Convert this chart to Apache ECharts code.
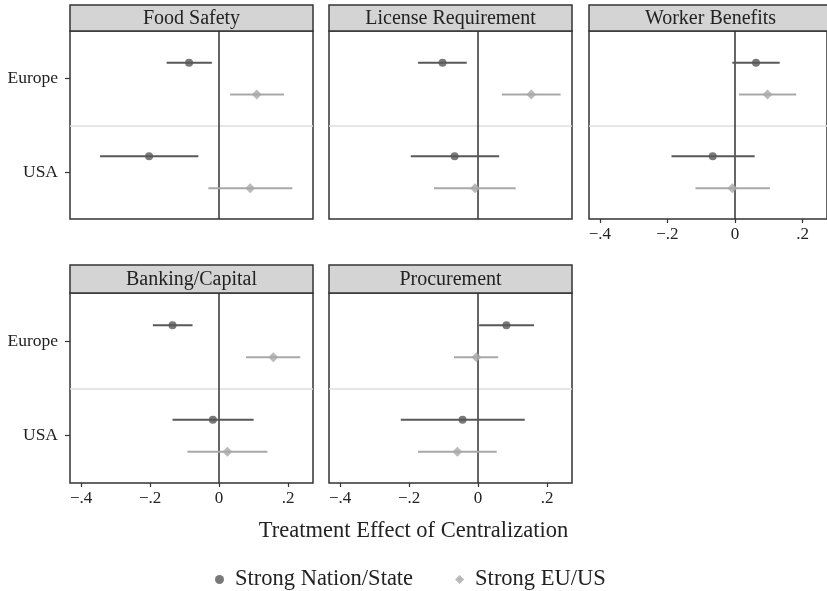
<!DOCTYPE html>
<html>
<head>
<meta charset="utf-8">
<script src="https://cdn.jsdelivr.net/npm/echarts@6/dist/echarts.min.js"></script>
<style>
  html, body { margin: 0; padding: 0; background: #fff; }
  #chart { width: 827px; height: 591px; }
</style>
</head>
<body>
<div id="chart"></div>
<script>
const panelNames = ["Food Safety", "License Requirement", "Worker Benefits", "Banking/Capital", "Procurement"];
const regions = ["Europe", "USA"];
const xTicks = [-0.4, -0.2, 0, 0.2];

// estimates and 95% bounds, per panel: [Europe, USA]
const nationEst = [[-0.087, -0.203], [-0.103, -0.068], [0.062, -0.066], [-0.135, -0.018], [0.082, -0.045]];
const nationLo  = [[-0.152, -0.345], [-0.174, -0.195], [-0.008, -0.188], [-0.192, -0.135], [0.003, -0.224]];
const nationHi  = [[-0.021, -0.060], [-0.033, 0.061], [0.132, 0.058], [-0.077, 0.100], [0.162, 0.135]];
const euEst = [[0.109, 0.090], [0.154, -0.009], [0.096, -0.008], [0.157, 0.024], [-0.005, -0.060]];
const euLo  = [[0.032, -0.031], [0.069, -0.128], [0.012, -0.117], [0.078, -0.092], [-0.070, -0.174]];
const euHi  = [[0.188, 0.212], [0.239, 0.109], [0.181, 0.103], [0.235, 0.140], [0.058, 0.054]];

const DARK = "#585858";
const LIGHT = "#a8a8a8";
const FONT = '"Liberation Serif", "DejaVu Serif", serif';
const DODGE = 0.17;

// panel boxes
const layout = [
  { left: 70, top: 31, height: 188, yLab: true, xLab: false },
  { left: 329, top: 31, height: 188, yLab: false, xLab: false },
  { left: 589, top: 31, height: 188, yLab: false, xLab: true },
  { left: 70, top: 293, height: 190, yLab: true, xLab: true },
  { left: 329, top: 293, height: 190, yLab: false, xLab: true },
];
const W = 243;

const fmtX = (v) => {
  if (Math.abs(v) < 1e-9) return "0";
  return (v < 0 ? "\u2212" : "") + Math.abs(v).toFixed(1).replace(/^0/, "");
};

const chart = echarts.init(document.getElementById("chart"));

const grids = [], xAxes = [], yAxes = [], series = [], graphics = [];

layout.forEach((p, i) => {
  grids.push({
    left: p.left, top: p.top, width: W, height: p.height,
    show: true, backgroundColor: "#fff", borderColor: "#333", borderWidth: 1.5,
  });
  xAxes.push({
    gridIndex: i, type: "value", min: -0.432, max: 0.272,
    axisLine: { show: false, onZero: false },
    splitLine: { show: false },
    axisTick: { show: p.xLab, customValues: xTicks, length: 4, lineStyle: { color: "#333", width: 1.2 } },
    axisLabel: { show: p.xLab, customValues: xTicks, formatter: fmtX, margin: 7,
      fontSize: 17, fontFamily: FONT, color: "#222" },
  });
  yAxes.push({
    gridIndex: i, type: "value", inverse: true, min: 0.49, max: 2.5,
    axisLine: { show: false, onZero: false },
    splitLine: { show: false },
    axisTick: { show: p.yLab, customValues: [1, 2], length: 5, lineStyle: { color: "#333", width: 1.2 } },
    axisLabel: { show: p.yLab, customValues: [1, 2], formatter: (v) => regions[Math.round(v) - 1],
      margin: 12, fontSize: 17.5, fontFamily: FONT, color: "#222" },
  });

  const bar = (lo, hi, off, color, extra) => Object.assign({
    type: "custom", xAxisIndex: i, yAxisIndex: i, z: 2,
    encode: { x: [0, 1], y: 2 },
    data: regions.map((r, j) => [lo[i][j], hi[i][j], j + 1 + off]),
    renderItem: (params, api) => {
      const a = api.coord([api.value(0), api.value(2)]);
      const b = api.coord([api.value(1), api.value(2)]);
      return { type: "line", shape: { x1: a[0], y1: a[1], x2: b[0], y2: b[1] },
        style: { stroke: color, lineWidth: 2 } };
    },
  }, extra || {});

  series.push(bar(nationLo, nationHi, -DODGE, DARK, {
    markLine: {
      silent: true, symbol: "none", label: { show: false }, z: 1,
      data: [
        { yAxis: 1.5, lineStyle: { color: "#dedede", width: 1.5, type: "solid" } },
        { xAxis: 0, lineStyle: { color: "#333", width: 1.5, type: "solid" } },
      ],
    },
  }));
  series.push(bar(euLo, euHi, DODGE, LIGHT));
  series.push({
    name: "Strong Nation/State", type: "scatter", xAxisIndex: i, yAxisIndex: i, z: 3,
    symbol: "circle", symbolSize: 8, itemStyle: { color: DARK },
    data: regions.map((r, j) => [nationEst[i][j], j + 1 - DODGE]),
  });
  series.push({
    name: "Strong EU/US", type: "scatter", xAxisIndex: i, yAxisIndex: i, z: 3,
    symbol: "diamond", symbolSize: 10, itemStyle: { color: LIGHT },
    data: regions.map((r, j) => [euEst[i][j], j + 1 + DODGE]),
  });

  // strip header
  const hTop = i < 3 ? 5 : 265;
  graphics.push({
    type: "rect", shape: { x: p.left, y: hTop, width: W, height: p.top - hTop },
    style: { fill: "#d4d4d4", stroke: "#333", lineWidth: 1.5 }, z: 10,
  });
  graphics.push({
    type: "text", x: p.left + W / 2, y: (hTop + p.top) / 2 + 1, z: 11,
    style: { text: panelNames[i], align: "center", verticalAlign: "middle",
      fontSize: 20, fontFamily: FONT, fill: "#222" },
  });
});

chart.setOption({
  backgroundColor: "#fff",
  animation: false,
  title: {
    text: "Treatment Effect of Centralization",
    left: "center", top: 515,
    textStyle: { fontSize: 22.5, fontWeight: "normal", fontFamily: FONT, color: "#222" },
  },
  legend: {
    data: [
      { name: "Strong Nation/State", icon: "circle" },
      { name: "Strong EU/US", icon: "diamond" },
    ],
    left: 210, top: 563,
    itemWidth: 9, itemHeight: 9, itemGap: 42,
    textStyle: { fontSize: 22.5, fontFamily: FONT, color: "#222", padding: [0, 0, 0, 6] },
  },
  grid: grids,
  xAxis: xAxes,
  yAxis: yAxes,
  series: series,
  graphic: graphics,
});
</script>
</body>
</html>
